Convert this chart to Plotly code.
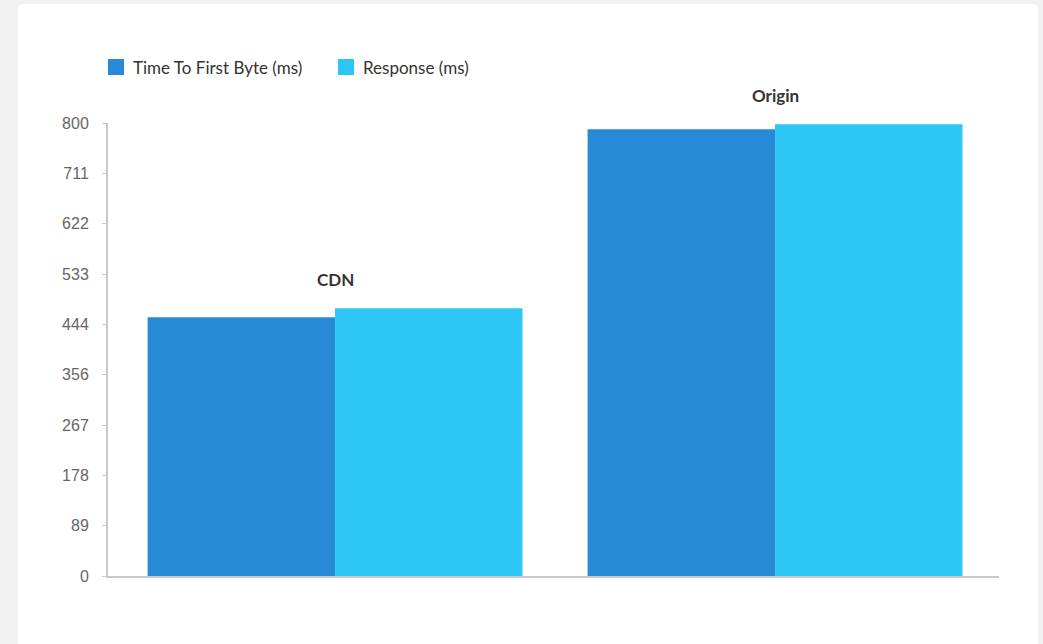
import plotly.graph_objects as go

categories = ["CDN", "Origin"]
ttfb = [457, 789]
response = [473, 798]
series_names = ["Time To First Byte (ms)", "Response (ms)"]
colors = ["#268ad6", "#2dc6f5"]
tick_vals = [0, 800/9, 1600/9, 2400/9, 3200/9, 4000/9, 4800/9, 5600/9, 6400/9, 800]
tick_text = ["0", "89", "178", "267", "356", "444", "533", "622", "711", "800"]

W, H = 1043, 644
L, R, T, B = 108, 44, 123, 68
pw, ph = W - L - R, H - T - B

def px(x):
    return (x - L) / pw

def py(y):
    return (H - B - y) / ph

fig = go.Figure()
fig.add_trace(go.Bar(x=categories, y=ttfb, name=series_names[0], marker=dict(color=colors[0], line=dict(width=0)), showlegend=False))
fig.add_trace(go.Bar(x=categories, y=response, name=series_names[1], marker=dict(color=colors[1], line=dict(width=0)), showlegend=False))

# card background (rounded)
x0, x1, y0, y1, r = px(18), px(1038), py(4), py(700), 6
rx, ry = r / pw, r / ph
path = (f"M {x0+rx},{y0} L {x1-rx},{y0} Q {x1},{y0} {x1},{y0-ry} "
        f"L {x1},{y1} L {x0},{y1} L {x0},{y0-ry} Q {x0},{y0} {x0+rx},{y0} Z")
shapes = [dict(type="path", xref="paper", yref="paper", path=path,
               fillcolor="white", line=dict(width=0), layer="below")]

annotations = []
# manual legend
leg_items = [(108, 131), (338, 361)]
for (sx, tx), name, col in zip(leg_items, series_names, colors):
    shapes.append(dict(type="rect", xref="paper", yref="paper",
                       x0=px(sx), x1=px(sx + 16), y0=py(59), y1=py(75),
                       fillcolor=col, line=dict(width=0), layer="above"))
    annotations.append(dict(xref="paper", yref="paper", x=px(tx), y=py(67),
                            text=name, showarrow=False, xanchor="left", yanchor="middle",
                            font=dict(family="Lato, sans-serif", size=17, color="#333333")))

# category labels above groups
for i, cat in enumerate(categories):
    top = max(ttfb[i], response[i])
    annotations.append(dict(x=cat, y=top, xref="x", yref="y", text=f"<b>{cat}</b>",
                            showarrow=False, yshift=29, yanchor="middle",
                            font=dict(family="Lato, sans-serif", size=17, color="#333333")))

fig.update_layout(
    width=W, height=H,
    margin=dict(l=L, r=R, t=T, b=B, pad=0),
    paper_bgcolor="#f2f2f2",
    plot_bgcolor="rgba(0,0,0,0)",
    barmode="group",
    bargap=0.148,
    bargroupgap=0,
    shapes=shapes,
    annotations=annotations,
    showlegend=False,
    xaxis=dict(range=[-0.516, 1.509], showticklabels=False, ticks="",
               showline=True, linecolor="#c8c8c8", linewidth=2, showgrid=False,
               zeroline=False, fixedrange=True),
    yaxis=dict(range=[0, 800], tickvals=tick_vals, ticktext=tick_text,
               showline=True, linecolor="#c8c8c8", linewidth=2,
               ticks="outside", ticklen=4, tickwidth=1, tickcolor="#c8c8c8",
               showgrid=False, zeroline=False,
               tickfont=dict(family="Liberation Sans, Arial, sans-serif", size=16, color="#666666"),
               ticklabelstandoff=10),
)

fig.write_html("out.html")
